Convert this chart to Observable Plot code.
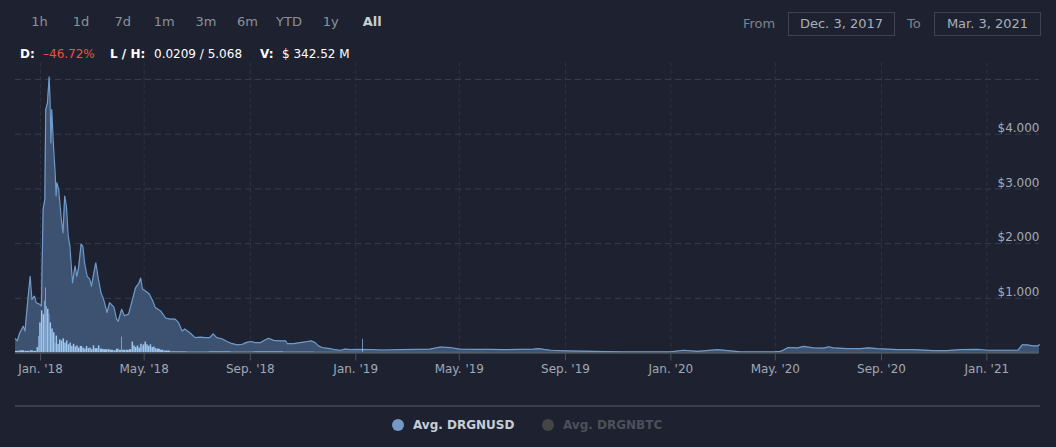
<!DOCTYPE html>
<html><head><meta charset="utf-8">
<script src="https://cdn.jsdelivr.net/npm/d3@7"></script>
<script src="https://cdn.jsdelivr.net/npm/@observablehq/plot@0.6"></script>
<style>
html,body{margin:0;padding:0}
body{background:#1e2230;width:1056px;height:447px;overflow:hidden;font-family:"DejaVu Sans",sans-serif;position:relative}
.abs{position:absolute;white-space:nowrap}
#ranges{left:18.7px;top:11px;display:flex}
#ranges span{width:41.6px;text-align:center;font-size:13px;color:#8b919b;line-height:22px}
#ranges span.on{color:#c9cdd4;font-weight:bold}
.info{top:45px;font-size:12px;color:#fff;line-height:18px}
.info.k{font-weight:bold}
.info.neg{color:#e8533f}
.lbl{font-size:13px;color:#7d838d;top:12px;line-height:24px}
.box{border:1px solid #3f444f;font-size:13px;color:#a9b0ba;text-align:center;line-height:22px;top:12px;height:22px;width:105px}
#sep{left:15px;top:405px;width:1025px;height:1.5px;background:#3a3f4b}
#legend{left:0;top:415px;width:1056px;height:20px}
.item{position:absolute;display:flex;align-items:center;font-size:12px;font-weight:bold;line-height:20px}
.dot{width:12px;height:12px;border-radius:50%;margin-right:9px}
#chart{left:0;top:58px}
</style></head>
<body>
<div id="ranges" class="abs"></div>
<div id="info"></div>
<div class="abs lbl" style="left:743px">From</div>
<div class="abs box" style="left:788px"></div>
<div class="abs lbl" style="left:907px">To</div>
<div class="abs box" style="left:934px"></div>
<div id="chart" class="abs"></div>
<div id="sep" class="abs"></div>
<div id="legend" class="abs"></div>
<script>
// ---- data ----
const rangeLabels = ["1h","1d","7d","1m","3m","6m","YTD","1y","All"];
const activeRange = "All";
const fromLabel = "Dec. 3, 2017";
const toLabel = "Mar. 3, 2021";
const statChange = "–46.72%";
const statLow = "0.0209";
const statHigh = "5.068";
const statVolume = "$ 342.52 M";
const seriesNames = ["Avg. DRGNUSD","Avg. DRGNBTC"];

const priceDates = [
"2017-12-03","2017-12-05","2017-12-08","2017-12-12","2017-12-14","2017-12-17","2017-12-20","2017-12-22","2017-12-25","2017-12-27","2017-12-31",
"2018-01-02","2018-01-04","2018-01-06","2018-01-07","2018-01-09","2018-01-11","2018-01-12","2018-01-13","2018-01-14","2018-01-16","2018-01-18","2018-01-19","2018-01-20","2018-01-22","2018-01-25","2018-01-27","2018-01-29","2018-01-31",
"2018-02-02","2018-02-04","2018-02-07","2018-02-10","2018-02-12","2018-02-14","2018-02-17","2018-02-19","2018-02-21","2018-02-24","2018-02-27",
"2018-03-01","2018-03-03","2018-03-06","2018-03-09","2018-03-12","2018-03-15","2018-03-19","2018-03-22","2018-03-27","2018-03-30",
"2018-04-01","2018-04-05","2018-04-08","2018-04-13","2018-04-17","2018-04-21","2018-04-25","2018-04-27","2018-04-29",
"2018-05-03","2018-05-07","2018-05-11","2018-05-14","2018-05-20","2018-05-26","2018-05-31",
"2018-06-06","2018-06-10","2018-06-14","2018-06-17","2018-06-23","2018-06-29",
"2018-07-05","2018-07-11","2018-07-16","2018-07-20","2018-07-24","2018-07-30",
"2018-08-05","2018-08-11","2018-08-17","2018-08-23","2018-08-27",
"2018-09-01","2018-09-07","2018-09-13","2018-09-17","2018-09-22","2018-09-28",
"2018-10-06","2018-10-12","2018-10-14","2018-10-21","2018-10-29",
"2018-11-06","2018-11-11","2018-11-15","2018-11-19","2018-11-23",
"2018-12-02","2018-12-08","2018-12-14","2018-12-20","2018-12-26",
"2019-01-02","2019-01-18","2019-02-02","2019-02-21","2019-03-13","2019-03-28","2019-04-09","2019-04-20","2019-05-02","2019-05-21",
"2019-06-06","2019-06-21","2019-07-07","2019-07-26","2019-08-01","2019-08-07","2019-08-15","2019-09-01","2019-09-30","2019-11-07","2019-12-31",
"2020-01-16","2020-02-01","2020-02-24","2020-03-10","2020-03-22","2020-04-29","2020-05-07","2020-05-10","2020-05-16","2020-05-27",
"2020-06-03","2020-06-14","2020-06-26","2020-07-02","2020-07-07","2020-07-23","2020-08-08","2020-08-17","2020-08-27",
"2020-09-19","2020-10-08","2020-10-31","2020-11-16","2020-12-01","2020-12-21",
"2021-01-02","2021-01-25","2021-02-06","2021-02-11","2021-02-17","2021-02-23","2021-03-01","2021-03-03"];
const priceValues = [
0.26,0.22,0.37,0.49,0.40,0.92,1.40,0.98,1.04,0.92,0.89,
0.86,2.63,2.81,4.45,4.57,5.05,4.63,3.84,4.45,3.78,3.27,2.87,3.11,2.99,2.45,2.20,2.87,2.68,
2.14,1.95,1.28,1.59,1.40,1.55,1.99,1.95,1.65,1.40,1.35,
1.22,1.40,1.65,1.35,1.10,0.98,0.74,0.92,0.84,0.62,
0.58,0.80,0.68,0.71,0.95,1.19,1.28,1.37,1.17,
1.13,1.08,0.95,0.83,0.77,0.64,0.62,
0.62,0.55,0.40,0.44,0.37,0.28,
0.29,0.28,0.28,0.35,0.28,0.26,
0.21,0.17,0.15,0.16,0.19,
0.21,0.19,0.19,0.23,0.27,0.23,
0.22,0.22,0.17,0.17,0.19,
0.21,0.22,0.19,0.13,0.10,
0.08,0.06,0.05,0.07,0.06,
0.065,0.06,0.055,0.06,0.065,0.07,0.11,0.10,0.07,0.065,
0.065,0.06,0.065,0.07,0.08,0.065,0.05,0.04,0.03,0.02,0.02,
0.05,0.03,0.06,0.04,0.02,0.02,0.03,0.05,0.10,0.095,
0.12,0.095,0.09,0.115,0.095,0.08,0.08,0.095,0.08,
0.06,0.06,0.045,0.045,0.06,0.065,
0.05,0.05,0.05,0.15,0.15,0.13,0.13,0.15];

// volume columns, in the price axis units they are drawn against
const volumeDates = [
"2017-12-03","2017-12-08","2017-12-14","2017-12-20","2017-12-24","2017-12-28","2017-12-30","2017-12-31",
"2018-01-02","2018-01-04","2018-01-06","2018-01-07","2018-01-08","2018-01-09","2018-01-11","2018-01-12","2018-01-14","2018-01-16","2018-01-18","2018-01-19","2018-01-21","2018-01-23","2018-01-25","2018-01-27","2018-01-29","2018-01-31",
"2018-02-02","2018-02-04","2018-02-06","2018-02-08","2018-02-10","2018-02-12","2018-02-14","2018-02-16","2018-02-19","2018-02-21","2018-02-23","2018-02-25","2018-02-27",
"2018-03-01","2018-03-03","2018-03-05","2018-03-09","2018-03-11","2018-03-15","2018-03-20","2018-03-23","2018-03-27","2018-03-30",
"2018-04-02","2018-04-05","2018-04-06","2018-04-10","2018-04-14","2018-04-17","2018-04-19","2018-04-21","2018-04-23","2018-04-25","2018-04-27","2018-04-29","2018-04-30",
"2018-05-02","2018-05-04","2018-05-06","2018-05-08","2018-05-10","2018-05-12","2018-05-14","2018-05-16","2018-05-20","2018-05-24",
"2018-06-01","2018-06-20","2018-07-15","2018-08-10","2018-09-05","2018-10-10","2018-11-15",
"2019-01-08","2019-01-09","2019-01-10","2019-06-01","2020-01-01","2020-06-01","2021-01-01"];
const volumeValues = [
0.03,0.04,0.03,0.04,0.03,0.10,0.30,0.55,
0.77,0.70,0.95,1.19,0.85,0.80,0.71,0.55,0.44,0.37,0.18,0.31,0.16,0.24,0.22,0.26,0.18,0.22,
0.15,0.18,0.12,0.16,0.11,0.13,0.09,0.12,0.09,0.07,0.12,0.08,0.09,
0.06,0.13,0.08,0.13,0.07,0.06,0.06,0.05,0.04,0.07,
0.05,0.29,0.05,0.05,0.06,0.20,0.13,0.10,0.13,0.09,0.16,0.12,0.15,
0.20,0.15,0.12,0.15,0.10,0.11,0.08,0.07,0.05,0.035,
0.02,0.015,0.02,0.015,0.02,0.015,0.012,
0.01,0.25,0.01,0.008,0.006,0.008,0.01];

const xTickDates = ["2018-01-01","2018-05-01","2018-09-01","2019-01-01","2019-05-01","2019-09-01","2020-01-01","2020-05-01","2020-09-01","2021-01-01"];
const yTickValues = [1,2,3,4];
const yGridValues = [1,2,3,4,5];
const xStart = "2017-12-03", xEnd = "2021-03-03";

// ---- header ----
const utc = s => new Date(s + "T00:00:00Z");
const rg = document.getElementById("ranges");
rangeLabels.forEach(l => { const s = document.createElement("span"); s.textContent = l; if (l === activeRange) s.className = "on"; rg.appendChild(s); });
const infoParts = [
  {t: "D:", c: "k", x: 20}, {t: statChange, c: "neg", x: 43},
  {t: "L / H:", c: "k", x: 110}, {t: statLow + " / " + statHigh, c: "", x: 154},
  {t: "V:", c: "k", x: 260}, {t: statVolume, c: "", x: 282}
];
const info = document.getElementById("info");
infoParts.forEach(p => { const s = document.createElement("div"); s.className = "abs info " + p.c; s.style.left = p.x + "px"; s.textContent = p.t; info.appendChild(s); });
const boxes = document.querySelectorAll(".box");
boxes[0].textContent = fromLabel; boxes[1].textContent = toLabel;

// ---- chart ----
const price = priceDates.map((d, i) => ({date: utc(d), value: priceValues[i]}));
const volume = volumeDates.map((d, i) => ({
  start: utc(d),
  end: i < volumeDates.length - 1 ? utc(volumeDates[i + 1]) : utc(xEnd),
  value: volumeValues[i]
}));
const xTicks = xTickDates.map(utc);
const axisColor = "#4b505c";

const chart = Plot.plot({
  width: 1056, height: 322,
  marginLeft: 15, marginRight: 17, marginTop: 4.6, marginBottom: 27.5,
  style: {background: "transparent", color: "#a0a8b4", fontFamily: "DejaVu Sans", fontSize: "12px", overflow: "visible"},
  x: {type: "utc", domain: [utc(xStart), utc(xEnd)]},
  y: {domain: [0, 5.3]},
  marks: [
    Plot.gridX({ticks: xTicks, stroke: "#2d3342", strokeOpacity: 1, strokeDasharray: "4,3"}),
    Plot.gridY({ticks: yGridValues, stroke: "#363c4b", strokeOpacity: 1, strokeDasharray: "6,4"}),
    Plot.areaY(price, {x: "date", y: "value", fill: "#3d5271"}),
    Plot.lineY(price, {x: "date", y: "value", stroke: "#6f9bca", strokeWidth: 1.2}),
    Plot.rectY(volume, {x1: "start", x2: "end", y: "value", fill: "#9dc6ee", insetRight: 0.2}),
    Plot.ruleY([0], {stroke: axisColor, strokeWidth: 1.5}),
    Plot.axisX({ticks: xTicks, tickSize: 8, tickPadding: 3, tickFormat: d3.utcFormat("%b. '%y"), stroke: axisColor, fill: "#a0a8b4", fontSize: 12, label: null}),
    Plot.axisY({ticks: yTickValues, anchor: "right", tickSize: 0, tickPadding: 0, textAnchor: "end", dy: -6, tickFormat: d => "$" + d.toFixed(3), fill: "#a3abb7", fontSize: 12, label: null})
  ]
});
document.getElementById("chart").appendChild(chart);

// ---- legend ----
const lg = document.getElementById("legend");
const legendItems = [
  {name: seriesNames[0], dot: "#7399c6", text: "#c6cdd7", left: 392},
  {name: seriesNames[1], dot: "#454545", text: "#4b505a", left: 542}
];
legendItems.forEach(it => {
  const d = document.createElement("div");
  d.className = "item"; d.style.left = it.left + "px"; d.style.top = "0px"; d.style.color = it.text;
  d.innerHTML = `<span class="dot" style="background:${it.dot}"></span><span>${it.name}</span>`;
  lg.appendChild(d);
});
</script>
</body></html>
